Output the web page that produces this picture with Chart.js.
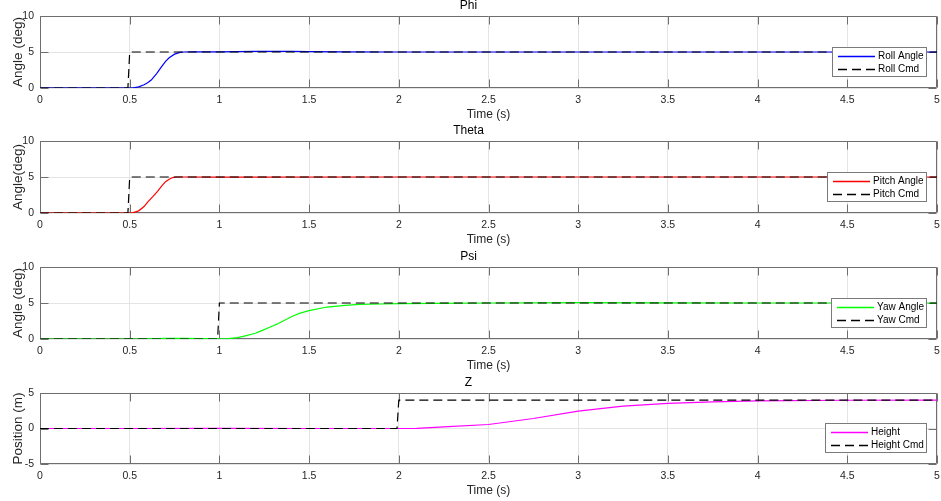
<!DOCTYPE html>
<html><head><meta charset="utf-8">
<script src="https://cdn.jsdelivr.net/npm/chart.js@4"></script>
<style>
html,body{margin:0;padding:0;background:#fff;overflow:hidden}
#wrap{position:relative;width:941px;height:501px;background:#fff}
canvas{position:absolute;left:0}
</style></head><body>
<div id="wrap">
<canvas id="c0" width="941" height="125" style="top:0px"></canvas>
<canvas id="c1" width="941" height="125" style="top:125px"></canvas>
<canvas id="c2" width="941" height="125" style="top:251px"></canvas>
<canvas id="c3" width="941" height="124" style="top:377px"></canvas>
</div>
<script>
// ---- tick values / labels ----
const xTickValues = [0,0.5,1,1.5,2,2.5,3,3.5,4,4.5,5];
const xTickLabels = ['0','0.5','1','1.5','2','2.5','3','3.5','4','4.5','5'];
const angleTickValues = [0,5,10];
const angleTickLabels = ['0','5','10'];
const posTickValues = [-5,0,5];
const posTickLabels = ['-5','0','5'];

// ---- Phi (roll) ----
const rollT = [0,0.50,0.52,0.55,0.58,0.60,0.62,0.65,0.68,0.70,0.72,0.75,0.78,0.80,0.85,0.90,1.00,1.10,1.20,1.30,1.40,1.50,1.70,2.00,2.50,3.00,4.00,5.00];
const rollV = [0,0,0.02,0.15,0.45,0.72,1.10,2.00,3.05,3.70,4.20,4.70,4.95,5.00,5.02,5.02,5.03,5.05,5.08,5.10,5.08,5.05,5.02,5.00,5.00,5.00,5.00,5.00];
const rollCmdT = [0,0.49,0.50,5];
const rollCmdV = [0,0,5,5];

// ---- Theta (pitch) ----
const pitchT = [0,0.50,0.52,0.55,0.58,0.60,0.63,0.655,0.68,0.70,0.72,0.74,0.76,0.80,1.00,2.00,3.00,4.00,5.00];
const pitchV = [0,0,0.05,0.30,0.90,1.50,2.30,3.00,3.80,4.35,4.70,4.92,5.00,5.00,4.98,5.00,5.00,5.00,5.00];
const pitchCmdT = [0,0.49,0.50,5];
const pitchCmdV = [0,0,5,5];

// ---- Psi (yaw) ----
const yawT = [0,0.50,0.60,0.70,0.80,0.90,1.00,1.05,1.10,1.133,1.20,1.226,1.30,1.32,1.41,1.45,1.50,1.60,1.70,1.78,1.90,2.00,2.20,2.50,3.00,3.50,4.00,5.00];
const yawV = [0,0,0.03,0.08,0.08,0.05,0.02,0.05,0.18,0.37,0.80,1.06,1.85,2.06,3.20,3.60,3.93,4.44,4.68,4.80,4.86,4.90,4.95,5.00,5.05,5.03,5.00,5.00];
const yawCmdT = [0,0.99,1.00,5];
const yawCmdV = [0,0,5,5];

// ---- Z (height) ----
const heightT = [0,0.50,1.00,1.50,2.00,2.10,2.25,2.50,2.75,3.00,3.25,3.50,3.75,4.00,4.50,5.00];
const heightV = [0,0,0.03,0,0,0.02,0.24,0.56,1.41,2.45,3.15,3.53,3.76,3.90,3.98,4.00];
const heightCmdT = [0,1.99,2.00,5];
const heightCmdV = [0,0,4,4];

const FONT = '"Liberation Sans", Arial, Helvetica, sans-serif';
const TXT = '#262626';

function pts(t, v){ return t.map((x,i)=>({x:x, y:v[i]})); }

const matlabAxes = {
  id: 'matlabAxes',
  beforeDatasetsDraw(chart) {
    const {ctx, chartArea: a} = chart;
    const x = chart.scales.x, y = chart.scales.y;
    const L = Math.round(a.left)+0.5, R = Math.round(a.right)-0.5;
    const T = Math.round(a.top)+0.5, B = Math.round(a.bottom)-0.5;
    const tl = 8;
    ctx.save();
    ctx.strokeStyle = '#6e6e6e';
    ctx.lineWidth = 1;
    ctx.beginPath();
    ctx.rect(L, T, R-L, B-T);
    x.ticks.forEach(t => {
      const px = Math.round(x.getPixelForValue(t.value))+0.5;
      ctx.moveTo(px, B); ctx.lineTo(px, B-tl);
      ctx.moveTo(px, T); ctx.lineTo(px, T+tl);
    });
    y.ticks.forEach(t => {
      const py = Math.round(y.getPixelForValue(t.value))+0.5;
      ctx.moveTo(L, py); ctx.lineTo(L+tl, py);
      ctx.moveTo(R, py); ctx.lineTo(R-tl, py);
    });
    ctx.stroke();
    ctx.restore();
  },
  afterDraw(chart) {
    const {ctx, chartArea: a} = chart;
    const ds = chart.data.datasets;
    ctx.save();
    ctx.font = '10px ' + FONT;
    const tw = Math.max(...ds.map(d => ctx.measureText(d.label).width));
    const w = Math.round(6 + 37 + 2 + tw + 4), h = 30;
    const right = Math.round(a.right) - 10, bottom = Math.round(a.bottom) - 11;
    const left = right - w, top = bottom - h;
    ctx.fillStyle = '#fff';
    ctx.fillRect(left, top, w, h);
    ctx.strokeStyle = '#7a7a7a';
    ctx.lineWidth = 1;
    ctx.strokeRect(left+0.5, top+0.5, w-1, h-1);
    ds.forEach((d, i) => {
      const yy = top + 9 + i*13;
      ctx.beginPath();
      ctx.strokeStyle = d.borderColor;
      ctx.lineWidth = 1.3;
      ctx.setLineDash(d.borderDash || []);
      ctx.moveTo(left+6, yy+0.5); ctx.lineTo(left+43, yy+0.5);
      ctx.stroke();
      ctx.setLineDash([]);
      ctx.fillStyle = '#000';
      ctx.textBaseline = 'middle';
      ctx.textAlign = 'left';
      ctx.fillText(d.label, left+46, yy+0.5);
    });
    ctx.restore();
  }
};

function makeChart(id, title, yLabel, yTicks, yLabels, yMin, yMax, series) {
  const datasets = series.map(s => ({
    label: s.label,
    data: pts(s.t, s.v),
    borderColor: s.color,
    borderWidth: 1.2,
    borderDash: s.dash || [],
    pointRadius: 0,
    fill: false,
    tension: 0,
    order: s.dash ? 0 : 1
  }));
  return new Chart(document.getElementById(id), {
    type: 'line',
    data: { datasets },
    plugins: [matlabAxes],
    options: {
      responsive: false,
      animation: false,
      events: [],
      layout: { padding: { left: 0, right: 4, top: 0, bottom: 0 } },
      plugins: {
        legend: { display: false },
        tooltip: { enabled: false },
        title: {
          display: true, text: title, color: '#000',
          font: { family: FONT, size: 12, weight: 'normal', lineHeight: 1 },
          padding: { top: 0, bottom: 4 }
        }
      },
      scales: {
        x: {
          type: 'linear', min: 0, max: 5,
          afterFit: s => { s.height = 37; s.paddingLeft = 0; s.paddingRight = 0; },
          afterBuildTicks: s => { s.ticks = xTickValues.map(v => ({ value: v })); },
          ticks: {
            color: TXT, padding: 6, maxRotation: 0, autoSkip: false,
            font: { family: FONT, size: 10.5, lineHeight: 1.2 },
            callback: v => xTickLabels[xTickValues.indexOf(v)]
          },
          grid: { color: '#e4e4e4', drawTicks: false, lineWidth: 1 },
          border: { display: false },
          title: {
            display: true, text: 'Time (s)', color: TXT,
            font: { family: FONT, size: 12, lineHeight: 1.2 },
            padding: { top: 0, bottom: 3 }
          }
        },
        y: {
          type: 'linear', min: yMin, max: yMax,
          afterFit: s => { s.width = 40; s.paddingTop = 0; s.paddingBottom = 0; },
          afterBuildTicks: s => { s.ticks = yTicks.map(v => ({ value: v })); },
          ticks: {
            color: TXT, padding: 6, autoSkip: false,
            font: { family: FONT, size: 10.5, lineHeight: 1.2 },
            callback: v => yLabels[yTicks.indexOf(v)]
          },
          grid: { color: '#e4e4e4', drawTicks: false, lineWidth: 1 },
          border: { display: false },
          title: {
            display: true, text: yLabel, color: TXT,
            font: { family: FONT, size: 13.5, lineHeight: 1.2 },
            padding: { top: 10, bottom: 0 }
          }
        }
      }
    }
  });
}

const DASH = [9, 5];
makeChart('c0', 'Phi', 'Angle (deg)', angleTickValues, angleTickLabels, 0, 10, [
  { label: 'Roll Angle', t: rollT, v: rollV, color: '#0000ff' },
  { label: 'Roll Cmd', t: rollCmdT, v: rollCmdV, color: '#000000', dash: DASH }
]);
makeChart('c1', 'Theta', 'Angle(deg)', angleTickValues, angleTickLabels, 0, 10, [
  { label: 'Pitch Angle', t: pitchT, v: pitchV, color: '#ff0000' },
  { label: 'Pitch Cmd', t: pitchCmdT, v: pitchCmdV, color: '#000000', dash: DASH }
]);
makeChart('c2', 'Psi', 'Angle (deg)', angleTickValues, angleTickLabels, 0, 10, [
  { label: 'Yaw Angle', t: yawT, v: yawV, color: '#00ff00' },
  { label: 'Yaw Cmd', t: yawCmdT, v: yawCmdV, color: '#000000', dash: DASH }
]);
makeChart('c3', 'Z', 'Position (m)', posTickValues, posTickLabels, -5, 5, [
  { label: 'Height', t: heightT, v: heightV, color: '#ff00ff' },
  { label: 'Height Cmd', t: heightCmdT, v: heightCmdV, color: '#000000', dash: DASH }
]);
</script>
</body></html>
